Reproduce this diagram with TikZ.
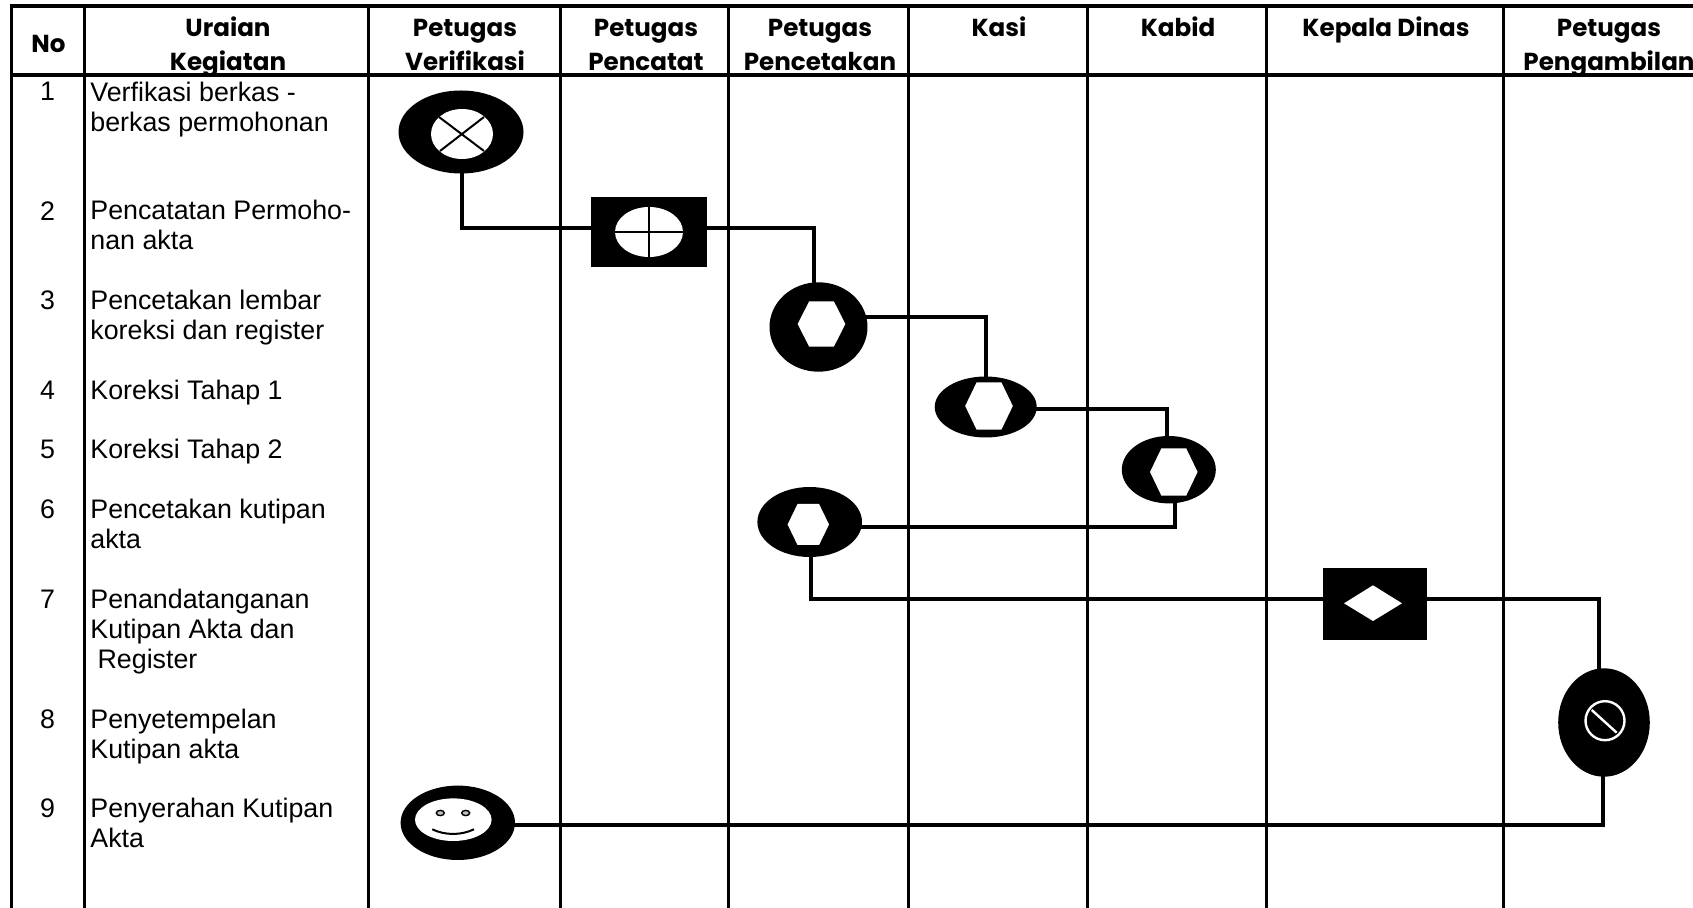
\documentclass[tikz,border=0pt]{standalone}
\usepackage{fontspec}
\setmainfont{Liberation Sans}
\newfontfamily\hdrfont{Poppins}
\usetikzlibrary{shapes.geometric,backgrounds,calc}
\newcommand{\hexmark}[4]{\fill[white] (#1-#3,#2) -- (#1-0.52*#3,#2-#4) -- (#1+0.52*#3,#2-#4) -- (#1+#3,#2) -- (#1+0.52*#3,#2+#4) -- (#1-0.52*#3,#2+#4) -- cycle;}
\tikzset{
  grid/.style={line width=1.5pt,black},
  hgrid/.style={line width=1.9pt,black},
  link/.style={line width=2pt,black,line join=miter},
  blob/.style={ellipse,fill=black,inner sep=0pt},
  boxnode/.style={rectangle,fill=black,inner sep=0pt},
  hdr/.style={font=\hdrfont\bfseries\fontsize{12.3}{17}\selectfont,align=center,inner sep=0pt,anchor=center},
  txt/.style={font=\fontsize{13.4}{15}\selectfont,align=left,inner sep=0pt,anchor=north west},
  num/.style={font=\fontsize{13.4}{15}\selectfont,inner sep=0pt,anchor=center},
  markline/.style={line width=1pt,black}
}
\begin{document}
\begin{tikzpicture}[x=0.5pt,y=-0.5pt]
\useasboundingbox (0,0) rectangle (1693,908);
% grid
\draw[hgrid] (9.5,6) -- (1693,6);
\draw[hgrid] (9.5,75) -- (1693,75);
\foreach \xx in {11,84.5,368.5,560.3,728.3,908,1087,1266.5,1503}
  \draw[grid] (\xx,6) -- (\xx,908);
% header
\node[hdr] (hno) at (48.5,46) {\strut No};
\node[hdr] (hur) at (228,46.5) {\strut Uraian\\\strut Kegiatan};
\node[hdr] (hver) at (465,46.5) {\strut Petugas\\\strut Verifikasi};
\node[hdr] (hcat) at (646,46.5) {\strut Petugas\\\strut Pencatat};
\node[hdr] (hcet) at (820,46.5) {\strut Petugas\\\strut Pencetakan};
\node[hdr] (hkas) at (999,29.5) {\strut Kasi};
\node[hdr] (hkab) at (1178,29.5) {\strut Kabid};
\node[hdr] (hkad) at (1386,29.5) {\strut Kepala Dinas};
\node[hdr] (hamb) at (1609,46.5) {\strut Petugas\\\strut Pengambilan};
% numbers
\node[num] (n1) at (47.5,91) {1};
\node[num] (n2) at (47.5,211) {2};
\node[num] (n3) at (47.5,300) {3};
\node[num] (n4) at (47.5,390) {4};
\node[num] (n5) at (47.5,449) {5};
\node[num] (n6) at (47.5,509) {6};
\node[num] (n7) at (47.5,599) {7};
\node[num] (n8) at (47.5,719) {8};
\node[num] (n9) at (47.5,808) {9};
% activities
\node[txt] (t1) at (90,81.5) {Verfikasi berkas -\\berkas permohonan};
\node[txt] (t2) at (90,200) {Pencatatan Permoho-\\nan akta};
\node[txt] (t3) at (90,290) {Pencetakan lembar\\koreksi dan register};
\node[txt] (t4) at (90,380) {Koreksi Tahap 1};
\node[txt] (t5) at (90,439) {Koreksi Tahap 2};
\node[txt] (t6) at (90,499) {Pencetakan kutipan\\akta};
\node[txt] (t7) at (90,589) {Penandatanganan\\Kutipan Akta dan\\\hspace{3.6pt}Register};
\node[txt] (t8) at (90,709) {Penyetempelan\\Kutipan akta};
\node[txt] (t9) at (90,798) {Penyerahan Kutipan\\Akta};
% symbols
\node[blob,minimum width=62.5pt,minimum height=41.5pt] (s1) at (461,132) {};
\fill[white] (462,134) ellipse [x radius=31,y radius=25];
\draw[markline] (439,117) -- (484,151) (484,117) -- (440,151);

\node[boxnode,minimum width=58.3pt,minimum height=35pt] (s2) at (649,232) {};
\fill[white] (649,232) ellipse [x radius=34,y radius=25];
\draw[markline] (649,207) -- (649,257) (615,232) -- (683,232);

\node[blob,minimum width=49pt,minimum height=44.7pt] (s3) at (818.5,327) {};
\hexmark{821.5}{324}{23.8}{22.7}

\node[blob,minimum width=51pt,minimum height=30.5pt] (s4) at (985.7,407) {};
\hexmark{989}{406}{23.8}{23.7}

\node[blob,minimum width=47pt,minimum height=33.7pt] (s5) at (1168.8,469.7) {};
\hexmark{1173.8}{472}{23.8}{23.7}

\node[blob,minimum width=52.3pt,minimum height=35pt] (s6) at (809.7,522) {};
\hexmark{808.3}{524.5}{20.7}{20.5}

\node[boxnode,minimum width=52.2pt,minimum height=36pt] (s7) at (1374.8,604.3) {};
\fill[white] (1344,603.3) -- (1373,585.3) -- (1402,603.3) -- (1373,621) -- cycle;

\node[blob,minimum width=45.8pt,minimum height=54.2pt] (s8) at (1604,722.5) {};
\draw[white,line width=1.2pt] (1605,720.7) circle [radius=19.5];
\draw[white,line width=1.2pt] (1591.7,710) -- (1616.7,732.7);

\node[blob,minimum width=57.2pt,minimum height=37.2pt] (s9) at (457.8,822.8) {};
\fill[white] (453.3,819.7) ellipse [x radius=38.3,y radius=21.3];
\draw[black,fill=lightgray,line width=0.7pt] (440.3,813) ellipse [x radius=4,y radius=2.6];
\draw[black,fill=lightgray,line width=0.7pt] (465.7,813) ellipse [x radius=4,y radius=2.6];
\draw[black,line width=1pt] (432.3,829.3) .. controls (445,835.5) and (461,835.5) .. (474,829.3);
% connectors, under the symbols
\begin{scope}[on background layer]
\draw[link] ([xshift=0.5pt]s1.center) |- ([yshift=2.2pt]s2.center);
\draw[link] ([yshift=2.2pt]s2.center) -| ([xshift=-2.1pt]s3.center);
\draw[link] ([yshift=4.9pt]s3.center) -| ([xshift=0.2pt]s4.center);
\draw[link] ([yshift=-1pt]s4.center) -| ([xshift=-0.9pt]s5.center);
\draw[link] ([xshift=3pt]s5.center) |- ([yshift=-2.4pt]s6.center);
\draw[link] ([xshift=0.5pt]s6.center) |- ([yshift=2.6pt]s7.center);
\draw[link] ([yshift=2.6pt]s7.center) -| ([xshift=-2.3pt]s8.center);
\draw[link] ([xshift=-0.7pt]s8.center) |- ([yshift=-1.1pt]s9.center);
\end{scope}
\end{tikzpicture}
\end{document}
